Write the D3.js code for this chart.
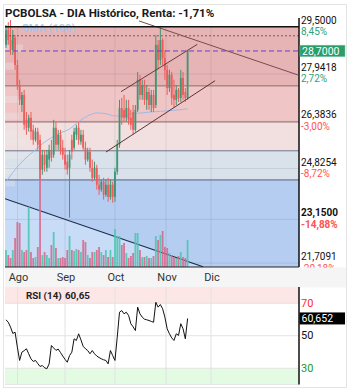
<!DOCTYPE html>
<html><head><meta charset="utf-8">
<script src="https://cdn.jsdelivr.net/npm/d3@7"></script>
<style>body{margin:0;background:#fff}svg{display:block;font-family:Roboto,"Noto Sans",sans-serif}</style>
</head><body><svg id="c" width="353" height="390"></svg>
<script>
const title = "PCBOLSA - DIA Histórico, Renta: -1,71%";
const open = [28.90,29.39,29.06,28.73,29.13,28.24,27.58,26.92,27.25,26.43,
  26.17,26.50,26.10,25.77,26.04,25.77,24.79,25.28,24.85,25.12,
  25.44,25.28,26.17,25.61,25.94,25.51,25.28,25.05,24.85,25.77,
  25.51,25.94,26.17,25.71,25.94,25.51,25.12,25.38,24.85,24.52,
  24.85,24.29,24.13,24.39,23.96,24.29,23.89,24.29,23.89,24.72,
  25.61,26.82,26.76,26.50,26.82,26.50,26.69,26.10,26.76,27.75,
  27.25,27.58,27.09,27.35,26.92,27.25,26.92,28.90,28.40,29.06,
  28.47,28.08,27.48,27.91,27.25,27.09,27.42,27.15,27.81,27.35,27.15];
const high = [29.56,29.65,29.72,29.39,29.23,28.40,27.75,27.35,27.42,26.69,
  26.60,26.69,26.27,26.17,26.17,25.94,25.44,25.44,25.44,25.61,
  25.77,26.43,26.37,26.10,26.10,25.77,25.51,25.28,25.44,25.94,
  26.17,26.27,26.37,26.10,26.10,25.71,25.51,25.51,25.12,25.05,
  24.95,24.62,24.46,24.52,24.46,24.52,24.46,24.39,24.85,25.77,
  27.09,27.15,27.25,27.09,27.09,26.76,26.92,26.92,28.01,27.91,
  27.75,27.75,27.58,27.48,27.42,27.42,29.23,29.06,29.49,29.13,
  28.73,28.24,28.08,28.01,27.75,27.58,27.48,28.08,28.01,27.48,28.73];
const low = [28.80,28.90,28.57,28.57,28.08,27.42,26.92,26.69,26.10,25.94,
  26.04,25.77,25.61,25.71,25.44,24.46,24.62,24.72,24.72,24.85,
  25.05,25.18,25.44,25.44,25.28,25.12,24.79,24.62,23.21,25.12,
  25.44,25.77,25.61,25.61,25.44,24.95,25.05,24.72,24.39,24.46,
  24.13,23.96,24.06,23.80,23.89,23.73,23.80,23.70,23.73,24.62,
  25.51,26.27,26.37,26.37,26.27,26.10,25.94,26.04,26.69,27.09,
  27.09,26.92,26.76,26.76,26.69,26.69,26.82,28.08,28.24,28.24,
  27.75,27.25,27.35,26.92,26.82,26.92,27.02,27.02,27.09,27.02,27.09];
const close = [29.39,29.06,28.73,29.23,28.24,27.58,27.09,27.25,26.27,26.17,
  26.50,26.04,25.77,26.04,25.61,24.79,25.28,24.95,25.28,25.44,
  25.18,26.17,25.61,25.94,25.44,25.28,24.95,24.79,25.28,25.38,
  26.04,26.17,25.77,25.94,25.51,25.12,25.38,24.85,24.52,24.85,
  24.29,24.13,24.39,23.96,24.29,23.89,24.29,23.89,24.72,25.61,
  26.82,26.50,26.50,26.82,26.43,26.27,26.10,26.76,27.75,27.25,
  27.58,27.09,27.35,26.92,27.25,26.82,28.90,28.40,29.06,28.47,
  28.08,27.48,27.91,27.15,27.09,27.42,27.15,27.81,27.25,27.15,28.70];
const volume = [170,120,90,170,290,450,440,170,150,170,
  600,150,90,100,200,1170,120,150,120,90,
  220,350,190,90,90,100,90,170,310,170,
  160,180,170,150,270,250,120,90,150,150,
  170,200,150,120,170,100,170,100,380,310,
  310,220,240,140,90,110,140,340,340,170,
  100,100,110,90,90,110,310,270,320,360,
  200,190,140,120,100,90,110,150,100,90,270];
const rsi = [59.8,58.3,55.3,51.4,52.2,43.0,34.8,39.9,40.8,42.0,
  38.9,35.8,34.2,34.8,32.9,31.1,31.7,30.3,29.7,32.7,
  44.0,42.5,41.0,41.8,39.7,37.5,35.5,33.7,37.8,39.9,
  48.1,47.1,51.2,47.5,43.5,42.0,40.9,38.9,40.9,38.9,
  37.5,36.6,35.8,35.2,34.8,32.7,40.9,37.8,34.8,49.1,
  64.5,65.5,63.5,64.5,62.5,57.4,55.5,53.2,67.6,63.5,
  61.5,60.2,59.8,59.4,58.8,58.3,70.6,67.6,69.2,66.6,
  61.4,54.3,51.2,48.7,47.1,51.2,50.2,57.4,54.3,48.1,60.65];
const smaIdx = [0,4,8,12,16,20,24,28,32,36,40,44,48,52,56,60,64,68,72,76,80];
const smaVal = [24.39,24.79,25.12,25.38,25.64,25.84,26.00,26.13,26.37,26.56,26.66,26.63,26.56,26.55,26.64,26.66,26.69,26.71,26.73,26.76,26.79];
const monthLabels = ["Ago","Sep","Oct","Nov","Dic"];
const monthIdx = [5.07, 26.0, 48.0, 70.5, 90.3];
const levelPrices = [29.5, 27.9418, 26.3836, 24.8254, 23.15, 21.7091];
const levelLabels = ["29,5000","27,9418","26,3836","24,8254","23,1500","21,7091"];
const levelPct = ["8,45%","2,72%","-3,00%","-8,72%","-14,88%","-20,18%"];
const zoneBounds = [29.5, 27.55, 26.36, 25.41, 24.45, 21.58];
const resistanceLevel = 29.2;
const lastPrice = 28.70, lastPriceLabel = "28,7000";
const vpPrice = [28.80,28.20,27.10,26.55,25.95,25.70,25.25,24.75,24.35];
const vpVol = [18,12,15,14,12,20,28,10,10];
// trend lines: [index0, price0, index1, price1]
const trendA = [58.6, 29.69, 128.6, 27.91];
const trendB = [50.7, 27.36, 84.3, 28.92];
const trendC = [44.05, 25.37, 92.1, 27.72];
const trendD = [-0.44, 23.83, 86.8, 21.59];
const rsiTicks = [70, 50, 30];
const rsiLastLabel = "60,652", rsiHeader = "RSI (14)", rsiHeaderVal = "60,65";

const svg = d3.select("#c");
const L = 5, R = 299, T = 26.7, B = 267;
const x = d3.scaleLinear().domain([0, 80]).range([6, 187.6]);
const y = d3.scaleLinear().domain([21.58, 29.5]).range([B, T]);
const yv = d3.scaleLinear().domain([0, 1000]).range([0, 100]);
const xvp = d3.scaleLinear().domain([0, 30]).range([0, 30]);
const yr = d3.scaleLinear().domain([20, 80]).range([384.5, 287]);

const zoneFill = ["#e6b4b5","#f0c5c6","#f2e0e0","#d9e2ea","#b5cdf1"];
const zoneLine = ["#8f6a6a","#8f6a6a","#70768a","#56637c"];
const green = "#3f9672", red = "#ee5c5c";

svg.append("defs").append("clipPath").attr("id","clip")
  .append("rect").attr("x",L).attr("y",T).attr("width",R-L).attr("height",B-T);

svg.append("rect").attr("x",3.5).attr("y",4.5).attr("width",343).attr("height",383)
  .attr("fill","none").attr("stroke","#e4e4e4");

for (let i=0;i<zoneFill.length;i++){
  svg.append("rect").attr("x",L).attr("y",y(zoneBounds[i])).attr("width",R-L)
    .attr("height",y(zoneBounds[i+1])-y(zoneBounds[i])).attr("fill",zoneFill[i]);
}
const gc = svg.append("g").attr("clip-path","url(#clip)");
gc.append("path").attr("fill","#c8dbf7")
  .attr("d", d3.line()([[x(trendD[0]),y(trendD[1])],[x(trendD[2]),y(trendD[3])],[x(trendD[2]),B],[x(trendD[0]),B]]));
gc.selectAll(".vp").data(vpPrice).join("rect")
  .attr("x",L).attr("y",d=>y(d)-3.5).attr("height",7)
  .attr("width",(d,i)=>xvp(vpVol[i])).attr("fill","rgba(235,235,235,0.35)");
gc.selectAll(".hg").data(levelPrices).join("line")
  .attr("x1",L).attr("x2",R).attr("y1",d=>y(d)).attr("y2",d=>y(d))
  .attr("stroke","rgba(40,40,90,0.1)");
gc.selectAll(".vg").data(monthIdx).join("line")
  .attr("x1",d=>x(d)).attr("x2",d=>x(d)).attr("y1",T).attr("y2",B)
  .attr("stroke","rgba(60,60,90,0.1)");
for (let i=1;i<zoneBounds.length-1;i++){
  svg.append("line").attr("x1",L).attr("x2",R).attr("y1",y(zoneBounds[i])).attr("y2",y(zoneBounds[i]))
    .attr("stroke",zoneLine[i-1]).attr("stroke-width",1);
}
const idx = d3.range(open.length);
svg.append("g").selectAll("rect").data(idx).join("rect")
  .attr("x",i=>x(i)-0.9).attr("width",1.8)
  .attr("y",i=>B-yv(volume[i])).attr("height",i=>yv(volume[i]))
  .attr("fill",i=>close[i]>=open[i]?"#4fc6b0":"#d66a8d").attr("opacity",0.9);
svg.append("path").attr("fill","none").attr("stroke","#9dbbe6").attr("stroke-width",1)
  .attr("d",d3.line().curve(d3.curveMonotoneX).x((d,i)=>x(smaIdx[i])).y(d=>y(d))(smaVal));
svg.append("text").attr("x",22).attr("y",32).attr("font-size",11).attr("font-weight","bold")
  .attr("fill","#a7c6f0").attr("opacity",0.9).text("SMA (100)");
const cg = svg.append("g");
cg.selectAll("line").data(idx).join("line")
  .attr("x1",i=>x(i)).attr("x2",i=>x(i)).attr("y1",i=>y(high[i])).attr("y2",i=>y(low[i]))
  .attr("stroke",i=>close[i]>=open[i]?green:red).attr("stroke-width",1);
cg.selectAll("rect").data(idx).join("rect")
  .attr("x",i=>x(i)-0.9).attr("width",1.8)
  .attr("y",i=>y(Math.max(open[i],close[i])))
  .attr("height",i=>Math.max(1,Math.abs(y(open[i])-y(close[i]))))
  .attr("fill",i=>close[i]>=open[i]?green:red);
const tl = (t,c)=>svg.append("line").attr("x1",x(t[0])).attr("y1",y(t[1])).attr("x2",x(t[2])).attr("y2",y(t[3]))
  .attr("stroke",c).attr("stroke-width",1);
tl(trendA,"#7b4b4b"); tl(trendB,"#6b3b3b"); tl(trendC,"#5b3333");
gc.append("line").attr("x1",x(trendD[0])).attr("y1",y(trendD[1])).attr("x2",x(trendD[2])).attr("y2",y(trendD[3]))
  .attr("stroke","#1c2b48").attr("stroke-width",1.2);
svg.append("line").attr("x1",L).attr("x2",R).attr("y1",y(resistanceLevel)).attr("y2",y(resistanceLevel))
  .attr("stroke","#8a5050").attr("stroke-dasharray","2,2");
svg.append("line").attr("x1",L).attr("x2",R).attr("y1",y(lastPrice)).attr("y2",y(lastPrice))
  .attr("stroke","#6a3fc8").attr("stroke-dasharray","5,3");
svg.append("line").attr("x1",L).attr("x2",R).attr("y1",T).attr("y2",T).attr("stroke","#111").attr("stroke-width",1.5);
svg.append("line").attr("x1",R).attr("x2",R).attr("y1",18).attr("y2",B).attr("stroke","#111").attr("stroke-width",1.5);

const lab = svg.append("g").attr("font-size",10);
levelPrices.forEach((p,i)=>{
  lab.append("text").attr("x",301).attr("y",y(p)-3).attr("fill","#111")
    .attr("font-weight",i===4?"bold":"normal").text(levelLabels[i]);
  lab.append("text").attr("x",301).attr("y",y(p)+8.5).attr("fill",p>=27.2?"#2ea37a":"#ff5252")
    .attr("font-weight",i===4?"bold":"normal").text(levelPct[i]);
});
svg.append("rect").attr("x",300).attr("y",y(lastPrice)-5.8).attr("width",45).attr("height",11.5)
  .attr("fill","#2a9d6a").attr("stroke","#7cc7a5").attr("stroke-width",0.5);
svg.append("text").attr("x",302).attr("y",y(lastPrice)+4).attr("font-size",10.5).attr("fill","#fff").text(lastPriceLabel);

svg.append("rect").attr("x",L).attr("y",B+0.5).attr("width",341).attr("height",20).attr("fill","#f5f5f5");
svg.append("line").attr("x1",L).attr("x2",R).attr("y1",B).attr("y2",B).attr("stroke","#222").attr("stroke-width",1);
svg.append("g").selectAll("text").data(monthLabels).join("text")
  .attr("x",(d,i)=>x(monthIdx[i])+1).attr("y",281).attr("text-anchor","middle")
  .attr("font-size",11).attr("fill","#333").text(d=>d);

svg.append("text").attr("x",5).attr("y",17).attr("font-size",11.6).attr("font-weight","bold")
  .attr("fill","#1a1a1a").text(title);

svg.append("rect").attr("x",L).attr("y",yr(80)).attr("width",R-L).attr("height",yr(70)-yr(80)).attr("fill","#fde6e6");
svg.append("rect").attr("x",L).attr("y",yr(30)).attr("width",R-L).attr("height",yr(20)-yr(30)).attr("fill","#e3fbe3");
svg.selectAll(".rg").data(rsiTicks).join("line")
  .attr("x1",L).attr("x2",R).attr("y1",d=>yr(d)).attr("y2",d=>yr(d)).attr("stroke","#e2e2e2");
svg.selectAll(".rvg").data(monthIdx).join("line")
  .attr("x1",d=>x(d)).attr("x2",d=>x(d)).attr("y1",yr(80)).attr("y2",yr(20)).attr("stroke","#e2e2e2");
svg.append("line").attr("x1",L).attr("x2",R).attr("y1",yr(20)).attr("y2",yr(20)).attr("stroke","#e6e6e6");
svg.append("path").attr("fill","none").attr("stroke","#111").attr("stroke-width",1)
  .attr("d",d3.line().x((d,i)=>x(i)).y(d=>yr(d))(rsi));
svg.append("line").attr("x1",R).attr("x2",R).attr("y1",yr(80)).attr("y2",yr(20)).attr("stroke","#111").attr("stroke-width",1.5);
svg.append("text").attr("x",26).attr("y",299).attr("font-size",9.8).attr("font-weight","bold").attr("fill","#222").text(rsiHeader);
svg.append("text").attr("x",65).attr("y",299).attr("font-size",9.8).attr("font-weight","bold").attr("fill","#222").text(rsiHeaderVal);
const rsiCol = {70:"#ff2a2a",50:"#111",30:"#1a9a1a"};
svg.selectAll(".rt").data(rsiTicks).join("text")
  .attr("x",301).attr("y",d=>yr(d)+3.5).attr("font-size",11).attr("fill",d=>rsiCol[d]).text(d=>d);
svg.append("rect").attr("x",299.5).attr("y",yr(60.652)-6).attr("width",45.5).attr("height",12).attr("fill","#000");
svg.append("text").attr("x",301.5).attr("y",yr(60.652)+4).attr("font-size",10.5).attr("fill","#fff").text(rsiLastLabel);
</script></body></html>
